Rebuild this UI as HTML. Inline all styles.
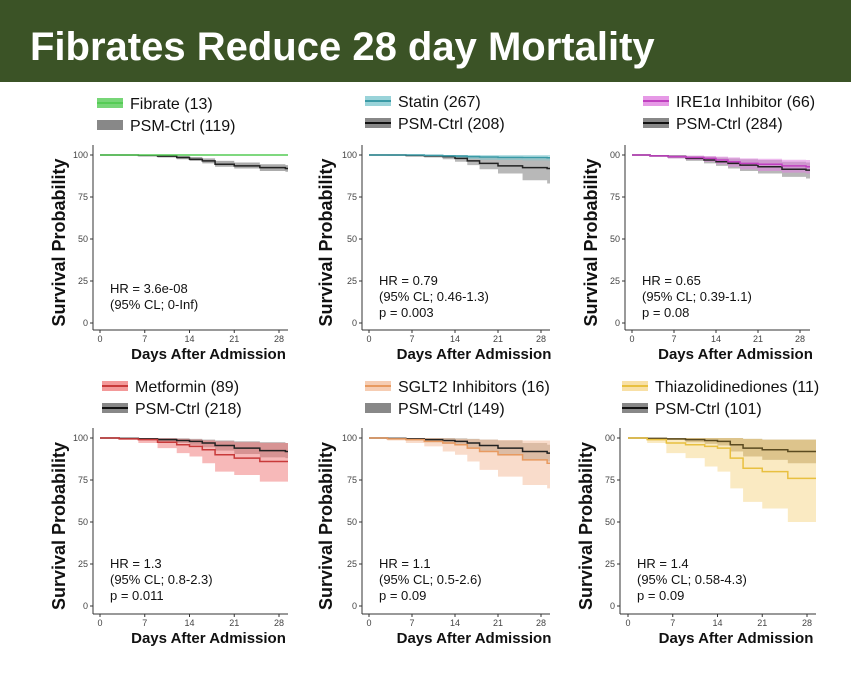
<!DOCTYPE html>
<html><head><meta charset="utf-8"><style>
body{margin:0;background:#fff;width:851px;height:677px;overflow:hidden;font-family:"Liberation Sans",sans-serif}
</style></head><body>
<svg id="root" width="851" height="677" xmlns="http://www.w3.org/2000/svg">
<rect x="0" y="0" width="851" height="82" fill="#3b5326"/>
<text x="30" y="60" fill="#fff" font-size="40" font-weight="bold" font-family="Liberation Sans, sans-serif">Fibrates Reduce 28 day Mortality</text>
</svg>
<script>
const panelTreatNames=["Fibrate (13)","Statin (267)","IRE1α Inhibitor (66)","Metformin (89)","SGLT2 Inhibitors (16)","Thiazolidinediones (11)"];
const panelCtrlNames=["PSM-Ctrl (119)","PSM-Ctrl (208)","PSM-Ctrl (284)","PSM-Ctrl (218)","PSM-Ctrl (149)","PSM-Ctrl (101)"];
const panelStats=[["HR = 3.6e-08","(95% CL; 0-Inf)"],["HR = 0.79","(95% CL; 0.46-1.3)","p = 0.003"],["HR = 0.65","(95% CL; 0.39-1.1)","p = 0.08"],["HR = 1.3","(95% CL; 0.8-2.3)","p = 0.011"],["HR = 1.1","(95% CL; 0.5-2.6)","p = 0.09"],["HR = 1.4","(95% CL; 0.58-4.3)","p = 0.09"]];
const yTicks=[0,25,50,75,100];
const yTickLabels=[["0","25","50","75","100"],["0","25","50","75","100"],["0","25","50","75","00"],["0","25","50","75","100"],["0","25","50","75","100"],["0","25","50","75","00"]];
const xTicks=[0,7,14,21,28];
const days=[0,3,6,9,12,14,16,18,21,25,29];
const treatSurv=[[100,100,100,100,100,100,100,100,100,100,100],[100,100,100,99.8,99.5,99.3,99,98.8,98.6,98.5,98.4],[100,99.5,99,98.5,98,97,96,95,94.5,93.5,93],[100,99.5,99,97.5,96,95,93,90,88,86,86],[100,99.5,99,98,97,96,94,92,90,87,85],[100,99,97,96,95,94,88,82,80,76,76]];
const treatLo=[[100,100,100,100,100,100,100,100,100,100,100],[100,99.8,99.4,99,98.5,98,97.6,97.2,97,96.8,96.7],[100,99,98,97,96,94.5,93,91.5,90.5,89.5,89],[100,99,97,94,91,89,85,80,78,74,74],[100,98.5,97,95,92,90,86,81,77,72,70],[100,97,91,88,83,80,70,62,58,50,50]];
const treatHi=[[100,100,100,100,100,100,100,100,100,100,100],[100,100,100,100,100,100,100,100,100,100,100],[100,100,99.8,99.6,99.4,99,98.6,98,97.8,97.2,97],[100,100,100,99.8,99.5,99,98.5,98,97.5,97,97],[100,100,100,100,99.8,99.5,99.3,99,98.8,98.5,98.5],[100,100,100,100,100,100,100,99.5,99,99,99]];
const ctrlSurv=[[100,100,99.8,99.3,98.5,97.5,96.5,94.5,93.5,92.5,92],[100,100,99.8,99.5,99,98,96.5,95,93.5,92.5,92],[100,99.5,99,98,97,96,95,94,93,91.5,91],[100,99.8,99.5,99,98.5,98,97,95.5,94,92.5,92],[100,99.8,99.5,99,98.5,98,97,95.5,94,92,91],[100,99.8,99.5,99,98.5,98,96,94,93,92,92]];
const ctrlLo=[[100,99.6,99.2,98.5,97.5,96.5,95,93,92,90.5,90],[100,99.6,99,98.5,97.5,96,94,91.5,89,85,83],[100,99,98,96.5,95,93.5,92,90.5,89,87,86],[100,99.5,99,98,97,96,94.5,92.5,90.5,88.5,88],[100,99.5,98.5,97.5,96.5,95.5,94,92,89.5,87,86],[100,99.5,98.8,97.5,96.5,95.5,92,89,87,85,85]];
const ctrlHi=[[100,100,100,100,99.5,98.8,98,96.5,95.5,94.5,94],[100,100,100,100,100,100,99.5,99,98.5,98,98],[100,100,100,99.5,99,98.5,98,97.5,97,96,95.5],[100,100,100,100,99.8,99.5,99,98.5,98,97.5,97],[100,100,100,100,100,99.8,99.5,99,98.5,97,96],[100,100,100,100,100,100,100,99.5,99,99,99]];
const colLine=["#55cc55","#3a9aa6","#c040c0","#c83a3a","#e89a60","#e8c040"];
const colBand=["#55cc55","#7fc8d0","#e080e0","#f08080","#f4c0a0","#f6d890"];
const ctrlBand=["#909090","#a0a0a0","#a0a0a0","#a09090","#a8a090","#a89060"];
const layout=[{ax:93,x0:100,x28:279,xe:288,y100:155,y0:323,yb:330,lx:97,ly:104,tx:65},
{ax:362,x0:369,x28:541,xe:550,y100:155,y0:323,yb:330,lx:365,ly:102,tx:332},
{ax:625,x0:632,x28:800,xe:810,y100:155,y0:323,yb:330,lx:643,ly:102,tx:597},
{ax:93,x0:100,x28:279,xe:288,y100:438,y0:606,yb:614,lx:102,ly:387,tx:65},
{ax:362,x0:369,x28:541,xe:550,y100:438,y0:606,yb:614,lx:365,ly:387,tx:332},
{ax:620,x0:628,x28:807,xe:816,y100:438,y0:606,yb:614,lx:622,ly:387,tx:592}];
const NS="http://www.w3.org/2000/svg",root=document.getElementById('root');
function mk(t,a,p){const e=document.createElementNS(NS,t);for(const k in a)e.setAttribute(k,a[k]);(p||root).appendChild(e);return e;}
function stepPts(sx,sy,vals,L){let d="";for(let i=0;i<days.length;i++){const x=sx(days[i]),y=sy(vals[i]);if(i==0)d+="M"+x+","+y;else d+="H"+x+"V"+y;}d+="H"+L.xe;return d;}
function band(sx,sy,lo,hi,L){let top=[],bot=[];for(let i=0;i<days.length;i++){const x1=sx(days[i]),x2=i+1<days.length?sx(days[i+1]):L.xe;top.push(x1+","+sy(hi[i]),x2+","+sy(hi[i]));bot.push(x1+","+sy(lo[i]),x2+","+sy(lo[i]));}return top.concat(bot.reverse()).join(" ");}
layout.forEach((L,p)=>{
 const g=mk('g',{});
 
 
 const sx=d=>L.x0+(L.x28-L.x0)*d/28, sy=v=>L.y0+(L.y100-L.y0)*v/100;
 // legend
 const l1=mk('rect',{x:L.lx,y:L.ly-6,width:26,height:10,fill:colBand[p],opacity:0.8},g);
 
 mk('line',{x1:L.lx,x2:L.lx+26,y1:L.ly-1,y2:L.ly-1,stroke:colLine[p],'stroke-width':2},g);
 const t1=mk('text',{x:L.lx+33,y:L.ly+5,'font-size':16,fill:'#111'},g);t1.textContent=panelTreatNames[p];
 
 const l2=mk('rect',{x:L.lx,y:L.ly+16,width:26,height:10,fill:'#888'},g);
 
 if(p!=0&&p!=4)mk('line',{x1:L.lx,x2:L.lx+26,y1:L.ly+21,y2:L.ly+21,stroke:'#111','stroke-width':2},g);
 const t2=mk('text',{x:L.lx+33,y:L.ly+27,'font-size':16,fill:'#111'},g);t2.textContent=panelCtrlNames[p];
 
 // bands
 const b1=mk('polygon',{points:band(sx,sy,ctrlLo[p],ctrlHi[p],L),fill:ctrlBand[p],opacity:0.75},g);
 
 const b2=mk('polygon',{points:band(sx,sy,treatLo[p],treatHi[p],L),fill:colBand[p],opacity:0.55},g);
 
 const c1=mk('path',{d:stepPts(sx,sy,ctrlSurv[p],L),fill:'none',stroke:p==5?'#5a4a20':'#222','stroke-width':1.5},g);
 
 const c2=mk('path',{d:stepPts(sx,sy,treatSurv[p],L),fill:'none',stroke:colLine[p],'stroke-width':1.5},g);
 
 // axes
 mk('line',{x1:L.ax,x2:L.ax,y1:L.y100-10,y2:L.yb,stroke:'#333','stroke-width':1},g);
 mk('line',{x1:L.ax,x2:L.xe,y1:L.yb,y2:L.yb,stroke:'#333','stroke-width':1},g);
 yTicks.forEach((v,i)=>{mk('line',{x1:L.ax-3,x2:L.ax,y1:sy(v),y2:sy(v),stroke:'#333'},g);
  const t=mk('text',{x:L.ax-5,y:sy(v)+3,'font-size':9,fill:'#444','text-anchor':'end'},g);t.textContent=yTickLabels[p][i];
  });
 xTicks.forEach(v=>{mk('line',{x1:sx(v),x2:sx(v),y1:L.yb,y2:L.yb+3,stroke:'#333'},g);
  const t=mk('text',{x:sx(v),y:L.yb+12,'font-size':9,fill:'#444','text-anchor':'middle'},g);t.textContent=v;
  });
 const yt=mk('text',{x:0,y:0,'font-size':18,'font-weight':'bold',fill:'#111','text-anchor':'middle',transform:`translate(${L.tx},${(L.y100+L.yb)/2}) rotate(-90)`},g);
 yt.textContent='Survival Probability';
 const xt=mk('text',{x:(L.ax+L.xe)/2+18,y:L.yb+29,'font-size':15,'font-weight':'bold',fill:'#111','text-anchor':'middle'},g);
 xt.textContent='Days After Admission';
 panelStats[p].forEach((s,i)=>{const t=mk('text',{x:L.ax+17,y:L.y0-38+i*16+(panelStats[p].length==2?8:0),'font-size':13,fill:'#111'},g);t.textContent=s;
  });
});
</script>
</body></html>
